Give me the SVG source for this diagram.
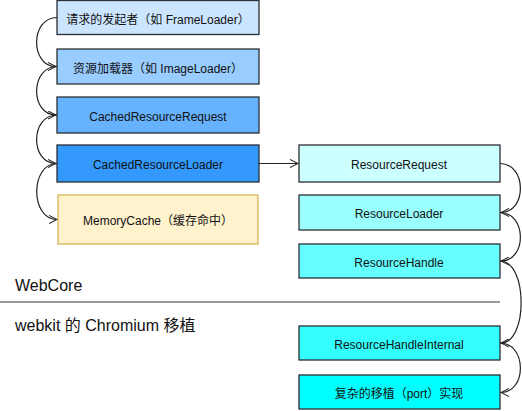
<svg xmlns="http://www.w3.org/2000/svg" width="522" height="411" viewBox="0 0 522 411">
<defs>
<style>
.box{stroke:#2b2f33;stroke-width:1.3}
.t{font-family:"Liberation Sans","Noto Sans CJK SC",sans-serif;font-size:12px;fill:#111;text-anchor:middle;dominant-baseline:central}
.lbl{font-family:"Liberation Sans","Noto Sans CJK SC",sans-serif;font-size:16px;fill:#111}
.c{fill:none;stroke:#222;stroke-width:1.2}
</style>
<marker id="a" viewBox="0 0 10 10" refX="9" refY="5" markerWidth="9" markerHeight="9" markerUnits="userSpaceOnUse" orient="auto">
<path d="M0,0.5 L9,5 L0,9.5" fill="none" stroke="#222" stroke-width="1.2"/>
</marker>
</defs>
<rect width="522" height="411" fill="#fff"/>
<g id="n1"><rect class="box" x="57" y="0.5" width="202" height="34" fill="#cce5ff"/><text class="t" x="158" y="19.5">请求的发起者（如 FrameLoader）</text></g>
<g id="n2"><rect class="box" x="57" y="49" width="202" height="35" fill="#99ccff"/><text class="t" x="158" y="68.5">资源加载器（如 ImageLoader）</text></g>
<g id="n3"><rect class="box" x="57" y="97" width="202" height="36" fill="#66b2ff"/><text class="t" x="158" y="117">CachedResourceRequest</text></g>
<g id="n4"><rect class="box" x="57" y="145" width="202" height="37" fill="#3399ff"/><text class="t" x="158" y="165">CachedResourceLoader</text></g>
<g id="n5"><rect x="58" y="195" width="200" height="49" fill="#fff2cc" stroke="#d6b656" stroke-width="1.3"/><text class="t" x="158" y="221">MemoryCache（缓存命中）</text></g>
<g id="n6"><rect class="box" x="299" y="145" width="201" height="37" fill="#ccffff"/><text class="t" x="399" y="165">ResourceRequest</text></g>
<g id="n7"><rect class="box" x="299" y="195" width="201" height="35" fill="#99ffff"/><text class="t" x="399" y="214">ResourceLoader</text></g>
<g id="n8"><rect class="box" x="299" y="244" width="201" height="34" fill="#66ffff"/><text class="t" x="399" y="263">ResourceHandle</text></g>
<g id="n9"><rect class="box" x="299" y="326" width="201" height="34" fill="#33ffff"/><text class="t" x="399" y="345">ResourceHandleInternal</text></g>
<g id="n10"><rect class="box" x="299" y="375" width="201" height="34" fill="#00ffff"/><text class="t" x="399" y="394">复杂的移植（port）实现</text></g>
<g id="labels">
<text class="lbl" x="15" y="291">WebCore</text>
<line x1="0" y1="302" x2="500" y2="302" stroke="#333" stroke-width="1.2"/>
<text class="lbl" x="15" y="331">webkit 的 Chromium 移植</text>
</g>
<g id="connectors">
<path class="c" d="M57,17.5 C30,17.5 30,66.5 56,66.5" marker-end="url(#a)"/>
<path class="c" d="M57,66.5 C30,66.5 30,115 56,115" marker-end="url(#a)"/>
<path class="c" d="M57,115 C30,115 30,163.5 56,163.5" marker-end="url(#a)"/>
<path class="c" d="M57,163.5 C30,163.5 30,219.5 57,219.5" marker-end="url(#a)"/>
<path class="c" d="M259,163.5 L298,163.5" marker-end="url(#a)"/>
<path class="c" d="M500,163.5 C527,163.5 527,212.5 501,212.5" marker-end="url(#a)"/>
<path class="c" d="M500,212.5 C527,212.5 527,261 501,261" marker-end="url(#a)"/>
<path class="c" d="M500,261 C528,261 528,343 501,343" marker-end="url(#a)"/>
<path class="c" d="M500,343 C527,343 527,392.5 501,392.5" marker-end="url(#a)"/>
</g>
</svg>
